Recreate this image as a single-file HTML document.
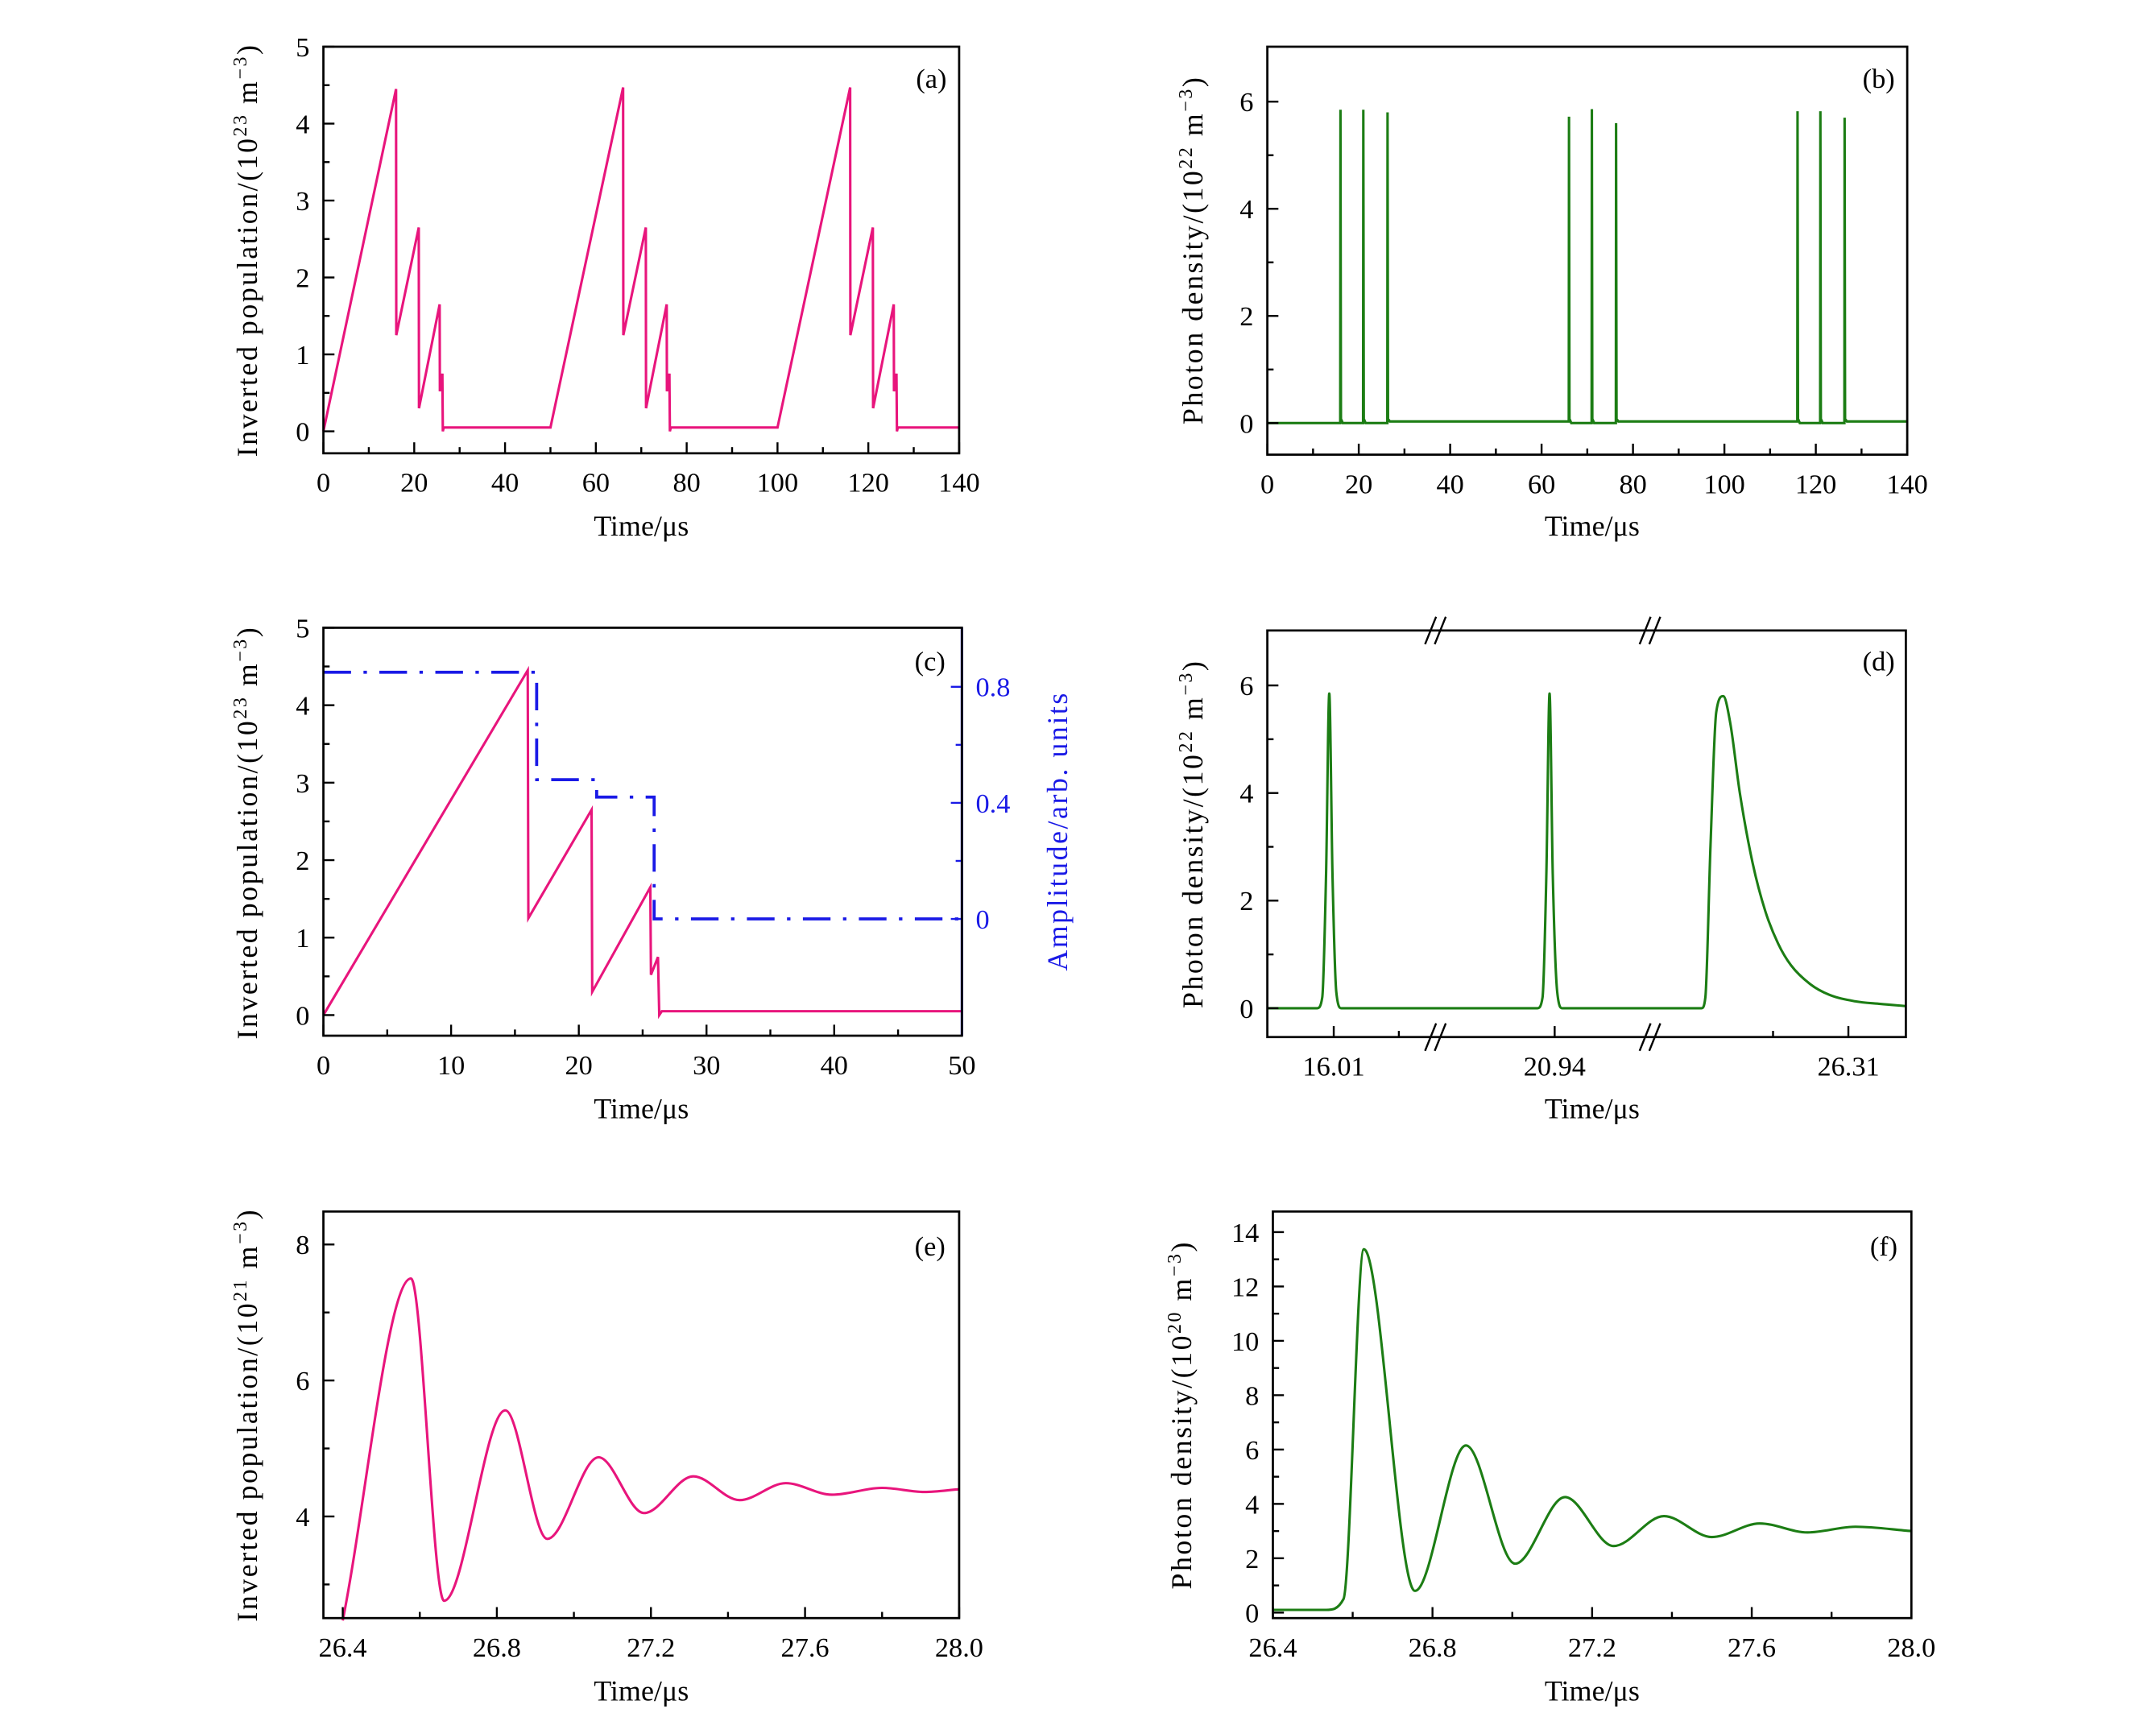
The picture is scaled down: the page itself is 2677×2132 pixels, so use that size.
<!DOCTYPE html>
<html><head><meta charset="utf-8">
<style>
html,body{margin:0;padding:0;background:#fff;}
svg, svg text{font-family:"Liberation Serif","DejaVu Serif",serif;}
svg{display:block;}
</style></head>
<body>
<svg id="fig" width="2677" height="2132" viewBox="0 0 1560 1250" preserveAspectRatio="none" xmlns="http://www.w3.org/2000/svg" font-family="Liberation Serif, DejaVu Serif, serif"></svg>
<script>
// ---------- data ----------
const aTime = [0,16,16.05,21,21.05,25.6,25.65,26.2,26.3,26.5,50,66,66.05,71,71.05,75.6,75.65,76.2,76.3,76.5,100,116,116.05,121,121.05,125.6,125.65,126.2,126.3,126.5,140];
const aPop  = [0,4.45,1.25,2.65,0.3,1.65,0.52,0.75,0,0.05,0.05,4.47,1.25,2.65,0.3,1.65,0.52,0.75,0,0.05,0.05,4.47,1.25,2.65,0.3,1.65,0.52,0.75,0,0.05,0.05];
const bSpikeTime = [16,21,26.3,66,71,76.3,116,121,126.3];
const bSpikeHeight = [5.85,5.85,5.8,5.72,5.86,5.6,5.82,5.82,5.7];
const bBase = [0,0,0.03,0,0,0.03,0,0,0.03];
const cTime = [0,16,16.05,21,21.05,25.6,25.65,26.2,26.3,26.5,50];
const cPop  = [0,4.45,1.25,2.65,0.3,1.65,0.52,0.75,0,0.05,0.05];
const cAmpTime = [0,16.7,16.7,21.4,21.4,25.9,25.9,50];
const cAmp     = [0.85,0.85,0.48,0.48,0.42,0.42,0,0];
const dPos = [0,7.8,8.6,9.2,9.7,10.2,10.8,11.6,42.3,43.1,43.7,44.2,44.7,45.4,46.2,68,68.6,69.4,70.3,71.4,72.5,74,76,78,80,82,85,88,92,96,100];
const dVal = [0,0,0.2,2.5,5.85,2.5,0.3,0,0,0.2,2.5,5.85,2.5,0.3,0,0,0.2,3,5.5,5.8,5.3,4.0,2.7,1.8,1.2,0.8,0.45,0.25,0.13,0.08,0.04];
const dTickPos = [10.4,45.0,91.0];
const dTickLabels = ["16.01","20.94","26.31"];
const eTime = [26.4,26.577,26.663,26.822,26.931,27.064,27.182,27.31,27.43,27.55,27.67,27.80,27.91,28.0];
const ePop  = [2.47,7.50,2.76,5.56,3.67,4.87,4.05,4.59,4.24,4.49,4.32,4.42,4.36,4.40];
const fTime = [26.4,26.534,26.577,26.628,26.756,26.884,27.007,27.132,27.254,27.38,27.50,27.62,27.74,27.86,28.0];
const fVal  = [0.1,0.1,0.5,13.37,0.8,6.15,1.8,4.25,2.45,3.55,2.78,3.28,2.95,3.16,3.0];
const tickLabelsA = ["0","20","40","60","80","100","120","140"];

// ---------- helpers ----------
const svg = document.getElementById('fig');
const NS = 'http://www.w3.org/2000/svg';
const FONT = 'Liberation Serif, DejaVu Serif, serif';
function mk(tag, attrs, parent){
  const e = document.createElementNS(NS, tag);
  for (const k in attrs) e.setAttribute(k, attrs[k]);
  if (tag==='text') e.setAttribute('font-family', FONT);
  (parent||svg).appendChild(e);
  return e;
}
function lin(d0,d1,r0,r1){ return v => r0 + (v-d0)*(r1-r0)/(d1-d0); }
function polyPath(xs, ys){ return xs.map((x,i)=>(i?'L':'M')+x.toFixed(2)+' '+ys[i].toFixed(2)).join(''); }
function monoPath(xs, ys){
  const n = xs.length, d=[], m=[];
  for (let i=0;i<n-1;i++) d.push((ys[i+1]-ys[i])/(xs[i+1]-xs[i]));
  m[0]=d[0]; m[n-1]=d[n-2];
  for (let i=1;i<n-1;i++){ m[i] = (d[i-1]*d[i]<=0)?0:(d[i-1]+d[i])/2; }
  for (let i=0;i<n-1;i++){ if (d[i]===0){m[i]=0;m[i+1]=0;continue;}
    const a=m[i]/d[i], b=m[i+1]/d[i], s=a*a+b*b; if (s>9){const t=3/Math.sqrt(s); m[i]=t*a*d[i]; m[i+1]=t*b*d[i];} }
  let p='M'+xs[0].toFixed(2)+' '+ys[0].toFixed(2);
  for (let i=0;i<n-1;i++){ const h=(xs[i+1]-xs[i])/3;
    p+='C'+(xs[i]+h).toFixed(2)+' '+(ys[i]+m[i]*h).toFixed(2)+' '+(xs[i+1]-h).toFixed(2)+' '+(ys[i+1]-m[i+1]*h).toFixed(2)+' '+xs[i+1].toFixed(2)+' '+ys[i+1].toFixed(2); }
  return p;
}
function ytitle(x, y, parts, name, color){
  const t = mk('text',{x:x,y:y,'font-size':21,'text-anchor':'middle',transform:`rotate(-90 ${x} ${y})`,fill:color||'#000','letter-spacing':'1.5'});
  
  
  parts.forEach(p=>{ const s=mk('tspan',p.sup?{'baseline-shift':'super','font-size':14}:{},t); s.textContent=p.t; });
  return t;
}
function axesBox(L,R,T,B,name){
  const r = mk('rect',{x:L,y:T,width:R-L,height:B-T,fill:'none',stroke:'#000','stroke-width':1.6});
  
  
}
function xTicks(g, xs, B, majors, labels, minors){
  majors.forEach((v,i)=>{
    mk('line',{x1:xs(v),x2:xs(v),y1:B,y2:B-8,stroke:'#000','stroke-width':1.4},g);
    const t=mk('text',{x:xs(v),y:B+28,'font-size':20,'text-anchor':'middle'},g);
    
    
    t.textContent=labels[i];
  });
  (minors||[]).forEach(v=>mk('line',{x1:xs(v),x2:xs(v),y1:B,y2:B-4.5,stroke:'#000','stroke-width':1.4},g));
}
function yTicks(g, ys, L, majors, labels, minors, color, right){
  const dir = right?-1:1;
  majors.forEach((v,i)=>{
    mk('line',{x1:L,x2:L+8*dir,y1:ys(v),y2:ys(v),stroke:color||'#000','stroke-width':1.4},g);
    const t=mk('text',{x:right?L+10:L-10,y:ys(v)+7,'font-size':20,'text-anchor':right?'start':'end',fill:color||'#000'},g);
    
    
    t.textContent=labels[i];
  });
  (minors||[]).forEach(v=>mk('line',{x1:L,x2:L+4.5*dir,y1:ys(v),y2:ys(v),stroke:color||'#000','stroke-width':1.4},g));
}
function panelLabel(x,y,txt){
  const t=mk('text',{x:x,y:y,'font-size':20,'text-anchor':'end'});
  
  
  t.textContent=txt;
}
function xtitle(x,y){
  const t=mk('text',{x:x,y:y,'font-size':21,'text-anchor':'middle'});
  
  
  t.textContent='Time/\u03bcs';
}
const PINK='#e8157c', GREEN='#1c7d14', BLUE='#1a1ae6';

// ---------- panel (a) ----------
{
  const L=234,R=694,T=34,B=330;
  const xs=lin(0,140,L,R), ys=lin(0,5,314,34);
  const g=mk('g',{});  
  const p=mk('path',{d:polyPath(aTime.map(xs),aPop.map(ys)),fill:'none',stroke:PINK,'stroke-width':1.8},g);
  
  
  axesBox(L,R,T,B,'axes-a');
  xTicks(g,xs,B,[0,20,40,60,80,100,120,140],tickLabelsA,[10,30,50,70,90,110,130]);
  yTicks(g,ys,L,[0,1,2,3,4,5],["0","1","2","3","4","5"],[0.5,1.5,2.5,3.5,4.5]);
  ytitle(186,182,[{t:'Inverted population/(10'},{t:'23',sup:1},{t:' m'},{t:'\u22123',sup:1},{t:')'}],'y-axis-title-a');
  xtitle(464,390); panelLabel(685,64,'(a)');
}
// ---------- panel (b) ----------
{
  const L=917,R=1380,T=34,B=331;
  const xs=lin(0,140,L,R), ys=lin(0,6,308,74);
  const g=mk('g',{});  
  const X=[0],Y=[0];
  bSpikeTime.forEach((t,i)=>{ X.push(t-0.05,t,t+0.1,t+0.5); Y.push(bBase[i-1]||0,bSpikeHeight[i],0.08,bBase[i]); });
  X.push(140); Y.push(bBase[bBase.length-1]);
  const p=mk('path',{d:polyPath(X.map(xs),Y.map(ys)),fill:'none',stroke:GREEN,'stroke-width':1.8},g);
  
  
  axesBox(L,R,T,B,'axes-b');
  xTicks(g,xs,B,[0,20,40,60,80,100,120,140],tickLabelsA,[10,30,50,70,90,110,130]);
  yTicks(g,ys,L,[0,2,4,6],["0","2","4","6"],[1,3,5]);
  ytitle(870,182,[{t:'Photon density/(10'},{t:'22',sup:1},{t:' m'},{t:'\u22123',sup:1},{t:')'}],'y-axis-title-b');
  xtitle(1152,390); panelLabel(1371,64,'(b)');
}
// ---------- panel (c) ----------
{
  const L=234,R=696,T=457,B=754;
  const xs=lin(0,50,L,R), ys=lin(0,5,739,457), ys2=lin(0,0.8,669,500);
  const g=mk('g',{});  
  const p=mk('path',{d:polyPath(cTime.map(xs),cPop.map(ys)),fill:'none',stroke:PINK,'stroke-width':1.8},g);
  
  
  const q=mk('path',{d:polyPath(cAmpTime.map(xs),cAmp.map(ys2)),fill:'none',stroke:BLUE,'stroke-width':2.2,'stroke-dasharray':'20 9 2.5 9'},g);
  
  
  axesBox(L,R,T,B,'axes-c');
  mk('line',{x1:R,x2:R,y1:T,y2:B,stroke:BLUE,'stroke-width':1.8},g);
  xTicks(g,xs,B,[0,10,20,30,40,50],["0","10","20","30","40","50"],[5,15,25,35,45]);
  yTicks(g,ys,L,[0,1,2,3,4,5],["0","1","2","3","4","5"],[0.5,1.5,2.5,3.5,4.5]);
  yTicks(g,ys2,R,[0,0.4,0.8],["0","0.4","0.8"],[0.2,0.6],BLUE,true);
  ytitle(186,606,[{t:'Inverted population/(10'},{t:'23',sup:1},{t:' m'},{t:'\u22123',sup:1},{t:')'}],'y-axis-title-c');
  ytitle(772,605,[{t:'Amplitude/arb. units'}],'right-axis-title-c',BLUE);
  xtitle(464,814); panelLabel(684,488,'(c)');
}
// ---------- panel (d) ----------
{
  const L=917,R=1379,T=459,B=755;
  const xs=lin(0,100,L,R), ys=lin(0,6,734,499);
  const g=mk('g',{});  
  const p=mk('path',{d:monoPath(dPos.map(xs),dVal.map(ys)),fill:'none',stroke:GREEN,'stroke-width':1.8},g);
  
  
  axesBox(L,R,T,B,'axes-d');
  xTicks(g,xs,B,dTickPos,dTickLabels,[20.6,79.2]);
  yTicks(g,ys,L,[0,2,4,6],["0","2","4","6"],[1,3,5]);
  [26,59.6].forEach(u=>{
    const x=xs(u);
    [T,B].forEach(y=>{
      mk('rect',{x:x-3,y:y-3,width:12,height:6,fill:'#fff'},g);
      mk('line',{x1:x-6,y1:y+10,x2:x+2,y2:y-10,stroke:'#000','stroke-width':1.4},g);
      mk('line',{x1:x+1,y1:y+10,x2:x+9,y2:y-10,stroke:'#000','stroke-width':1.4},g);
    });
  });
  ytitle(870,607,[{t:'Photon density/(10'},{t:'22',sup:1},{t:' m'},{t:'\u22123',sup:1},{t:')'}],'y-axis-title-d');
  xtitle(1152,814); panelLabel(1371,488,'(d)');
}
// ---------- panel (e) ----------
{
  const L=234,R=694,T=882,B=1178;
  const xs=lin(26.4,28.0,248,694), ys=lin(4,8,1104,906);
  const g=mk('g',{});  
  const p=mk('path',{d:monoPath(eTime.map(xs),ePop.map(ys)),fill:'none',stroke:PINK,'stroke-width':1.8},g);
  
  
  axesBox(L,R,T,B,'axes-e');
  xTicks(g,xs,B,[26.4,26.8,27.2,27.6,28.0],["26.4","26.8","27.2","27.6","28.0"],[26.6,27.0,27.4,27.8]);
  yTicks(g,ys,L,[4,6,8],["4","6","8"],[3,5,7]);
  ytitle(186,1030,[{t:'Inverted population/(10'},{t:'21',sup:1},{t:' m'},{t:'\u22123',sup:1},{t:')'}],'y-axis-title-e');
  xtitle(464,1238); panelLabel(684,914,'(e)');
}
// ---------- panel (f) ----------
{
  const L=921,R=1383,T=882,B=1178;
  const xs=lin(26.4,28.0,L,R), ys=lin(0,14,1174,897);
  const g=mk('g',{});  
  const p=mk('path',{d:monoPath(fTime.map(xs),fVal.map(ys)),fill:'none',stroke:GREEN,'stroke-width':1.8},g);
  
  
  axesBox(L,R,T,B,'axes-f');
  xTicks(g,xs,B,[26.4,26.8,27.2,27.6,28.0],["26.4","26.8","27.2","27.6","28.0"],[26.6,27.0,27.4,27.8]);
  yTicks(g,ys,L,[0,2,4,6,8,10,12,14],["0","2","4","6","8","10","12","14"],[1,3,5,7,9,11,13]);
  ytitle(862,1030,[{t:'Photon density/(10'},{t:'20',sup:1},{t:' m'},{t:'\u22123',sup:1},{t:')'}],'y-axis-title-f');
  xtitle(1152,1238); panelLabel(1373,914,'(f)');
}
</script>
</body></html>
